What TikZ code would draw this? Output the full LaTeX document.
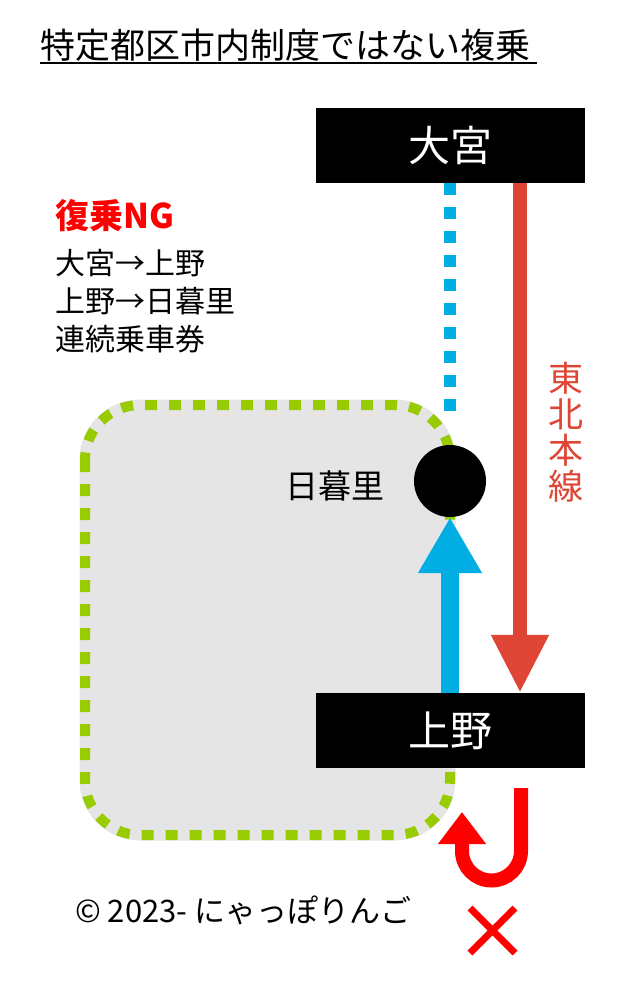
\documentclass[tikz,border=0pt]{standalone}
\usepackage{fontspec}
\setmainfont{Noto Sans CJK JP}
\usetikzlibrary{arrows.meta,positioning}
\definecolor{jrblue}{HTML}{00AEE3}
\definecolor{jrred}{HTML}{DE4534}
\definecolor{ngred}{HTML}{FF0000}
\definecolor{ygreen}{HTML}{99CC00}
\definecolor{bggray}{HTML}{E6E5E6}
\begin{document}
\begin{tikzpicture}[x=1pt,y=-1pt,
  station/.style={fill=black,text=white,minimum width=269pt,minimum height=75pt,font=\fontsize{42}{42}\selectfont},
  label/.style={anchor=west,font=\fontsize{30}{30}\selectfont}]
  \useasboundingbox (0,0) rectangle (640,990);

  % title
  \node[anchor=west,inner sep=0,font=\fontsize{35}{35}\selectfont] (title) at (40,45) {特定都区市内制度ではない複乗};
  \draw[line width=1.5pt] (40,63) -- (537,63);

  % area
  \draw[rounded corners=55pt,fill=bggray,draw=bggray,line width=11pt] (85,405) rectangle (450,835);
  \draw[rounded corners=55pt,draw=ygreen,line width=10pt,dash pattern=on 12pt off 12pt] (85,405) rectangle (450,835);

  % stations
  \node[station] (omiya) at (450.5,145.5) {大宮};
  \node[station] (ueno) at (450.5,730.5) {上野};
  \node[circle,fill=black,minimum size=72pt,inner sep=0] (nippori) at (450,481) {};
  \node[anchor=east,inner sep=0,font=\fontsize{33}{33}\selectfont] (nlabel) at (385,486) {日暮里};

  \coordinate (dotend) at (450,420);
  \coordinate (bluex) at (450,0);
  \coordinate (redx) at (520,0);
  \draw[jrblue,line width=12pt,dash pattern=on 12pt off 12pt] (bluex |- omiya.south) -- (dotend);
  \draw[jrblue,line width=18pt,-{Triangle[length=56pt,width=60pt]}] (bluex |- ueno.north) -- (bluex |- nippori.south);
  \draw[jrred,line width=14pt,-{Triangle[length=58pt,width=54pt]}] (redx |- omiya.south) -- (redx |- ueno.north);
  \node[jrred,align=center,font=\fontsize{35}{36}\selectfont] (tohoku) at (566,432) {東\\北\\本\\線};

  % legend
  \node[label,inner sep=0,ngred,font=\fontsize{34}{34}\selectfont\bfseries] (ng) at (55,216) {復乗NG};
  \node[label,inner sep=0] (l1) at (55,263) {大宮→上野};
  \node[label,inner sep=0] (l2) at (55,301) {上野→日暮里};
  \node[label,inner sep=0] (l3) at (55,339) {連続乗車券};

  % u-turn
  \draw[ngred,line width=14pt,-{Triangle[length=32pt,width=46pt]}] (521,788) -- (521,851) arc[start angle=0,end angle=180,radius=29.5] -- (462,812);
  \draw[ngred,line width=7pt] (470,908) -- (515,953) (515,908) -- (470,953);

  \node[label,inner sep=0,font=\fontsize{31}{31}\selectfont] (copy) at (75,910) {© 2023- にゃっぽりんご};
\end{tikzpicture}
\end{document}
